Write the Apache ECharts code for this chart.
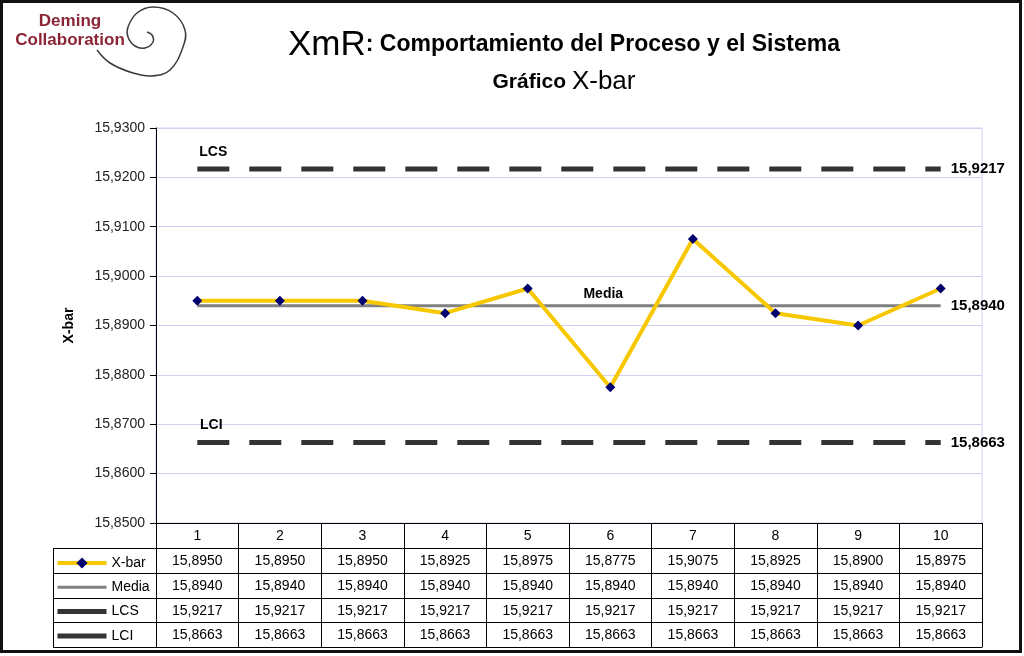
<!DOCTYPE html>
<html>
<head>
<meta charset="utf-8">
<script src="https://cdn.jsdelivr.net/npm/echarts@6/dist/echarts.min.js"></script>
<style>
  html, body { margin: 0; padding: 0; background: #fff; }
  #chart { width: 1024px; height: 656px; }
</style>
</head>
<body>
<div id="chart"></div>
<script>
// muestras
const categories = ['1', '2', '3', '4', '5', '6', '7', '8', '9', '10']
const xbar = [15.8950, 15.8950, 15.8950, 15.8925, 15.8975, 15.8775, 15.9075, 15.8925, 15.8900, 15.8975]
const media = [15.8940, 15.8940, 15.8940, 15.8940, 15.8940, 15.8940, 15.8940, 15.8940, 15.8940, 15.8940]
const lcs = [15.9217, 15.9217, 15.9217, 15.9217, 15.9217, 15.9217, 15.9217, 15.9217, 15.9217, 15.9217]
const lci = [15.8663, 15.8663, 15.8663, 15.8663, 15.8663, 15.8663, 15.8663, 15.8663, 15.8663, 15.8663]
const yMin = 15.85
const yMax = 15.93
const yStep = 0.01

const FONT = '"Liberation Sans", Arial, sans-serif'
const fmt = v => Number(v).toFixed(4).replace('.', ',')

// layout of the table under the plot
const gridLeft = 156
const gridBottomY = 523
const rowOffsets = [0, 25, 50, 75, 99, 124]
const tableLeft = 53

const chart = echarts.init(document.getElementById('chart'))

const rowAxis = (vals, offset) => ({
  type: 'category',
  data: vals.map(fmt),
  position: 'bottom',
  offset: offset,
  axisLine: { show: true, lineStyle: { color: '#000', width: 1 } },
  axisTick: { show: false },
  axisLabel: { interval: 0, margin: 6, fontSize: 14, color: '#000', fontFamily: FONT },
  splitLine: { show: false }
})

// lines of the legend column
const legendLines = rowOffsets.slice(1).map(o => ({
  type: 'line',
  shape: { x1: tableLeft, y1: gridBottomY + o + 0.5, x2: gridLeft, y2: gridBottomY + o + 0.5 },
  style: { stroke: '#000', lineWidth: 1 }
}))
legendLines.push({
  type: 'line',
  shape: { x1: tableLeft + 0.5, y1: gridBottomY + rowOffsets[1], x2: tableLeft + 0.5, y2: gridBottomY + rowOffsets[5] },
  style: { stroke: '#000', lineWidth: 1 }
})

// logo spiral
const spiral = [[97, 50], [110, 63], [133, 73], [152, 76], [170, 70], [183, 47], [185, 30], [173, 13],
  [153, 7], [137, 13], [128, 27], [128, 37], [135, 46], [145, 48], [153, 42], [152, 35], [147, 32]]

const labelStyle = { fontWeight: 'bold', fontSize: 14, color: '#000', fontFamily: FONT }
const limitLine = { color: '#333', width: 5, type: [32, 20] }

const option = {
  backgroundColor: '#fff',
  animation: false,
  title: {
    left: 559,
    top: 22,
    textAlign: 'center',
    text: '{a|XmR}{b|: Comportamiento del Proceso y el Sistema}\n{c|Gráfico }{d|X-bar}',
    textStyle: {
      rich: {
        a: { fontSize: 35, fontWeight: 'normal', color: '#000', fontFamily: FONT, lineHeight: 36 },
        b: { fontSize: 23, fontWeight: 'bold', color: '#000', fontFamily: FONT, lineHeight: 36 },
        c: { fontSize: 21, fontWeight: 'bold', color: '#000', fontFamily: FONT, lineHeight: 38 },
        d: { fontSize: 26, fontWeight: 'normal', color: '#000', fontFamily: FONT, lineHeight: 38 }
      }
    }
  },
  legend: {
    orient: 'vertical',
    left: 55,
    top: 556,
    padding: 0,
    itemWidth: 49,
    itemHeight: 14,
    itemGap: 10.3,
    textStyle: { fontSize: 14, color: '#000', fontFamily: FONT },
    data: [
      { name: 'X-bar', lineStyle: { width: 4 } },
      { name: 'Media', lineStyle: { width: 3 }, itemStyle: { opacity: 0 } },
      { name: 'LCS', lineStyle: { type: 'solid', width: 5 }, itemStyle: { opacity: 0 } },
      { name: 'LCI', lineStyle: { type: 'solid', width: 5 }, itemStyle: { opacity: 0 } }
    ]
  },
  grid: {
    left: gridLeft,
    right: 42,
    top: 128,
    bottom: 656 - gridBottomY,
    show: true,
    backgroundColor: '#fff',
    borderColor: '#d0d0f4',
    borderWidth: 1
  },
  xAxis: [
    {
      type: 'category',
      data: categories,
      position: 'bottom',
      boundaryGap: true,
      axisLine: { show: true, lineStyle: { color: '#000', width: 1 } },
      axisTick: { show: true, interval: 0, length: rowOffsets[5], lineStyle: { color: '#000', width: 1 } },
      axisLabel: { interval: 0, margin: 6, fontSize: 14, color: '#000', fontFamily: FONT },
      splitLine: { show: false }
    },
    rowAxis(xbar, rowOffsets[1]),
    rowAxis(media, rowOffsets[2]),
    rowAxis(lcs, rowOffsets[3]),
    rowAxis(lci, rowOffsets[4]),
    Object.assign(rowAxis(lci, rowOffsets[5]), { axisLabel: { show: false } })
  ],
  yAxis: {
    type: 'value',
    min: yMin,
    max: yMax,
    interval: yStep,
    name: 'X-bar',
    nameLocation: 'middle',
    nameGap: 80,
    nameTextStyle: labelStyle,
    axisLine: { show: true, lineStyle: { color: '#000', width: 1 } },
    axisTick: { show: true, length: 6, lineStyle: { color: '#000' } },
    axisLabel: { formatter: fmt, fontSize: 14, color: '#222', margin: 11, fontFamily: FONT },
    splitLine: { show: true, lineStyle: { color: '#d0d0f4', width: 1 } }
  },
  series: [
    {
      name: 'X-bar',
      type: 'line',
      data: xbar,
      z: 5,
      symbol: 'diamond',
      symbolSize: 10,
      lineStyle: { color: '#f7c800', width: 4 },
      itemStyle: { color: '#00006e' }
    },
    {
      name: 'Media',
      type: 'line',
      data: media.map((v, i) => i === 5 ? {
        value: v, symbol: 'circle', symbolSize: 2, itemStyle: { color: 'transparent' },
        label: Object.assign({ show: true, position: 'top', distance: 4, offset: [-7, 0], formatter: 'Media' }, labelStyle)
      } : v),
      z: 3,
      symbol: 'none',
      lineStyle: { color: '#808080', width: 3 },
      itemStyle: { color: '#808080' },
      endLabel: Object.assign({ show: true, distance: 10, formatter: p => fmt(p.value) }, labelStyle, { fontSize: 15 })
    },
    {
      name: 'LCS',
      type: 'line',
      data: lcs.map((v, i) => i === 0 ? {
        value: v, symbol: 'circle', symbolSize: 2, itemStyle: { color: 'transparent' },
        label: Object.assign({ show: true, position: 'top', distance: 9, offset: [16, 0], formatter: 'LCS' }, labelStyle)
      } : v),
      symbol: 'none',
      lineStyle: limitLine,
      itemStyle: { color: '#333' },
      endLabel: Object.assign({ show: true, distance: 10, formatter: p => fmt(p.value) }, labelStyle, { fontSize: 15 })
    },
    {
      name: 'LCI',
      type: 'line',
      data: lci.map((v, i) => i === 0 ? {
        value: v, symbol: 'circle', symbolSize: 2, itemStyle: { color: 'transparent' },
        label: Object.assign({ show: true, position: 'top', distance: 9, offset: [14, 0], formatter: 'LCI' }, labelStyle)
      } : v),
      symbol: 'none',
      lineStyle: limitLine,
      itemStyle: { color: '#333' },
      endLabel: Object.assign({ show: true, distance: 10, formatter: p => fmt(p.value) }, labelStyle, { fontSize: 15 })
    }
  ],
  graphic: [
    {
      type: 'rect',
      shape: { x: 1.5, y: 1.5, width: 1019, height: 650 },
      style: { fill: 'none', stroke: '#111', lineWidth: 3 },
      silent: true
    },
    ...legendLines,
    {
      type: 'polyline',
      shape: { points: spiral, smooth: 0.4 },
      style: { fill: 'none', stroke: '#3a3a3a', lineWidth: 1.5 }
    },
    {
      type: 'text',
      style: {
        x: 70, y: 12, text: 'Deming\nCollaboration', align: 'center',
        fill: '#8b2535', font: 'bold 17px ' + FONT, lineHeight: 19
      }
    }
  ]
}

chart.setOption(option)
</script>
</body>
</html>
